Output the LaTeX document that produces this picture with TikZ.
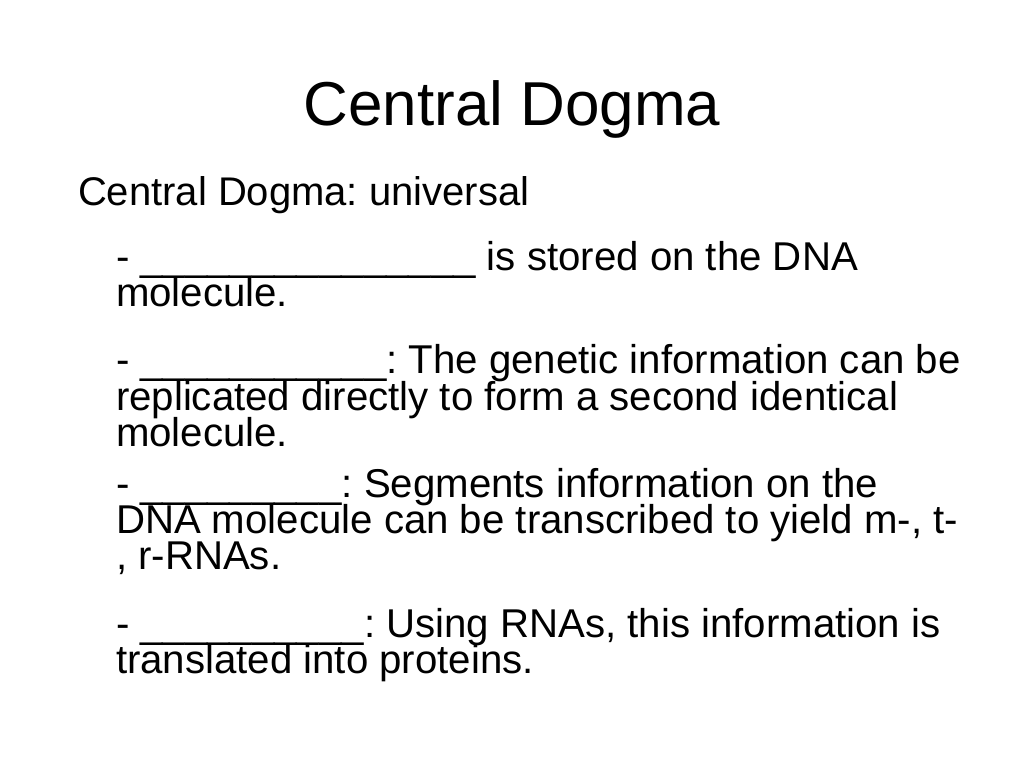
\documentclass[tikz,border=0pt]{standalone}
\usepackage{fontspec}
\setmainfont{Liberation Sans}
\frenchspacing
\begin{document}
\begin{tikzpicture}[x=1pt,y=1pt,
  every node/.style={inner sep=0pt,outer sep=0pt},
  titletext/.style={anchor=base,font=\fontsize{62}{70}\selectfont},
  headtext/.style={anchor=base west,font=\fontsize{40}{36}\selectfont},
  bodytext/.style={anchor=base west,font=\fontsize{40.2}{36}\selectfont}]
\useasboundingbox[fill=white] (0,0) rectangle (1024,-768);
\node[titletext] (title) at (512,-125) {Central Dogma};
\node[headtext] (head) at (78,-205) {Central Dogma: universal};
\node[bodytext] (a1) at (116,-270) {- \_\_\_\_\_\_\_\_\_\_\_\_\_\_\_ is stored on the DNA};
\node[bodytext] (a2) at (116,-306) {molecule.};
\node[bodytext] (b1) at (116,-373) {- \_\_\_\_\_\_\_\_\_\_\_: The genetic information can be};
\node[bodytext] (b2) at (116,-410) {replicated directly to form a second identical};
\node[bodytext] (b3) at (116,-446) {molecule.};
\node[bodytext] (c1) at (116,-497) {- \_\_\_\_\_\_\_\_\_: Segments information on the};
\node[bodytext] (c2) at (116,-533) {DNA molecule can be transcribed to yield m-, t-};
\node[bodytext] (c3) at (116,-569) {, r-RNAs.};
\node[bodytext] (d1) at (116,-637) {- \_\_\_\_\_\_\_\_\_\_: Using RNAs, this information is};
\node[bodytext] (d2) at (116,-673) {translated into proteins.};
\end{tikzpicture}
\end{document}
